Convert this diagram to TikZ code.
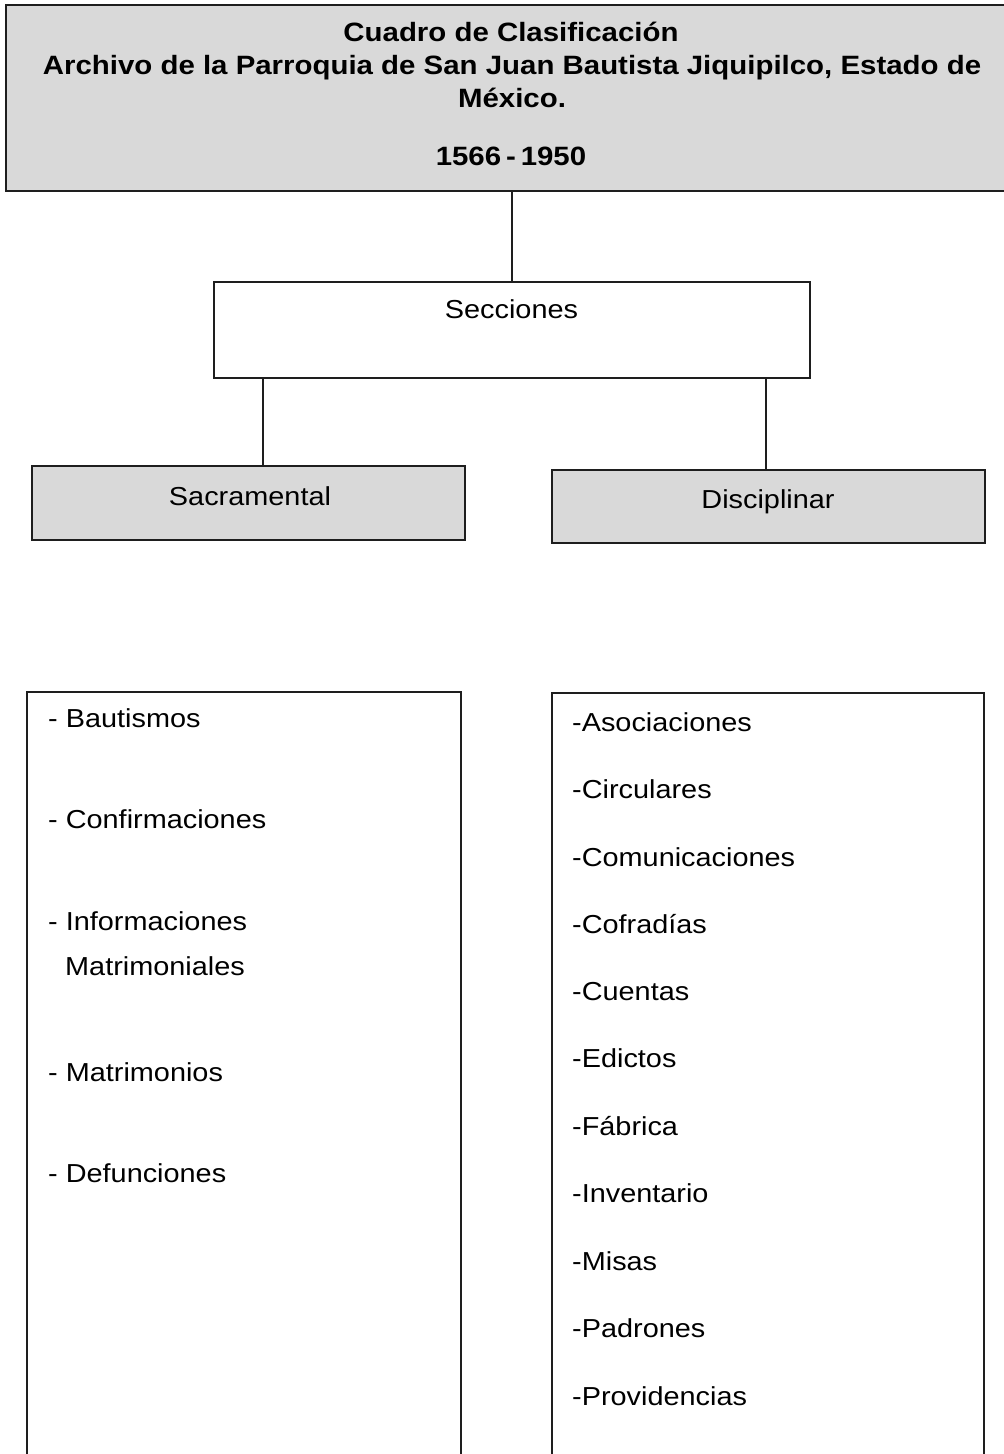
\documentclass[tikz,border=0pt]{standalone}
\usepackage{fontspec}
\usepackage{graphicx}
\setmainfont{Liberation Sans}
\definecolor{boxgray}{HTML}{D9D9D9}
\definecolor{edge}{HTML}{1E1E1E}
\newcommand\hsc[1]{\scalebox{1.11}[1]{#1}}
\begin{document}
\begin{tikzpicture}[x=1pt,y=-1pt,
  boxstyle/.style={draw=edge, line width=1.6pt, inner sep=0pt, outer sep=0pt},
  graybox/.style={boxstyle, fill=boxgray},
  whitebox/.style={boxstyle, fill=white},
  conn/.style={draw=edge, line width=1.2pt},
  ttl/.style={inner sep=0pt, anchor=base, font=\fontsize{26.5}{30}\selectfont\bfseries, text=black},
  lbl/.style={inner sep=0pt, anchor=base, font=\fontsize{26}{30}\selectfont, text=black},
  item/.style={inner sep=0pt, anchor=base west, font=\fontsize{26}{30}\selectfont, text=black}
]
\useasboundingbox (0,0) rectangle (1004,1454);
\fill[white] (0,0) rectangle (1004,1454);

% boxes
\node[graybox, minimum width=1004pt, minimum height=186pt] (top) at (508,98) {};
\node[whitebox, minimum width=596pt, minimum height=96pt] (secc) at (512,330) {};
\node[graybox, minimum width=433pt, minimum height=74pt] (sacr) at (248.5,503) {};
\node[graybox, minimum width=433pt, minimum height=73pt] (disc) at (768.5,506.5) {};
\node[whitebox, minimum width=434pt, minimum height=780pt] (llist) at (244,1082) {};
\node[whitebox, minimum width=432pt, minimum height=778pt] (rlist) at (768,1082) {};

% connectors
\coordinate (cx0) at (512,0);
\coordinate (cx1) at (263,0);
\coordinate (cx2) at (766,0);
\draw[conn] (cx0 |- top.south) -- (cx0 |- secc.north);
\draw[conn] (cx1 |- secc.south) -- (cx1 |- sacr.north);
\draw[conn] (cx2 |- secc.south) -- (cx2 |- disc.north);

% title
\node[ttl] (t1) at (511,41.5) {\hsc{Cuadro de Clasificación}};
\node[ttl] (t2) at (512,74.5) {\hsc{Archivo de la Parroquia de San Juan Bautista Jiquipilco, Estado de}};
\node[ttl] (t3) at (512,107.5) {\hsc{México.}};
\node[ttl] (t4) at (511,165) {\hsc{1566\,-\,1950}};

% section labels
\node[lbl] (ls) at (511.5,318.5) {\hsc{Secciones}};
\node[lbl] (lsa) at (250,505) {\hsc{Sacramental}};
\node[lbl] (ldi) at (768,508) {\hsc{Disciplinar}};

% left list
\node[item] (a1) at (48,727) {\hsc{- Bautismos}};
\node[item] (a2) at (48,828) {\hsc{- Confirmaciones}};
\node[item] (a3) at (48,930) {\hsc{- Informaciones}};
\node[item] (a3b) at (65,975) {\hsc{Matrimoniales}};
\node[item] (a4) at (48,1081) {\hsc{- Matrimonios}};
\node[item] (a5) at (48,1182) {\hsc{- Defunciones}};

% right list
\node[item] (b1) at (572,731) {\hsc{-Asociaciones}};
\node[item] (b2) at (572,798.5) {\hsc{-Circulares}};
\node[item] (b3) at (572,866) {\hsc{-Comunicaciones}};
\node[item] (b4) at (572,933) {\hsc{-Cofradías}};
\node[item] (b5) at (572,1000.5) {\hsc{-Cuentas}};
\node[item] (b6) at (572,1067.5) {\hsc{-Edictos}};
\node[item] (b7) at (572,1135) {\hsc{-Fábrica}};
\node[item] (b8) at (572,1202.5) {\hsc{-Inventario}};
\node[item] (b9) at (572,1270) {\hsc{-Misas}};
\node[item] (b10) at (572,1337.5) {\hsc{-Padrones}};
\node[item] (b11) at (572,1405) {\hsc{-Providencias}};
\end{tikzpicture}
\end{document}
